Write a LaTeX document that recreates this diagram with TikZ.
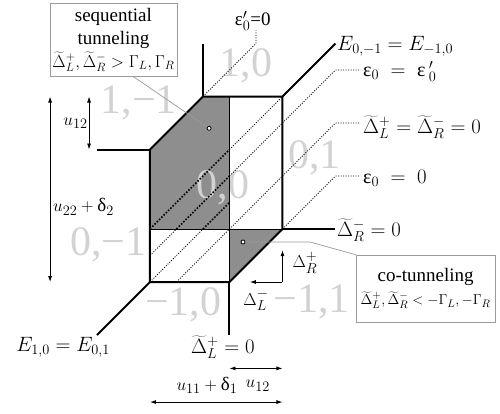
\documentclass[tikz,border=0pt]{standalone}
\usepackage{fontspec}
\setmainfont{Liberation Serif}
\usepackage{tikz}
\usetikzlibrary{positioning, arrows.meta}
\definecolor{cellgray}{HTML}{8E8E8E}
\definecolor{chargegray}{HTML}{D2D2D2}
\definecolor{boxgray}{HTML}{9A9A9A}

\begin{document}
\begin{tikzpicture}[x=26.5pt,y=26.5pt,
  edge/.style={line width=2pt},
  inner/.style={line width=0.7pt},
  thindot/.style={line width=0.8pt,dash pattern=on 1pt off 1.5pt},
  thickdot/.style={line width=1.6pt,dash pattern=on 1.6pt off 1.6pt},
  charge/.style={text=chargegray,font=\fontsize{42}{42}\selectfont,inner sep=0pt},
  lbl/.style={font=\fontsize{20}{24}\selectfont,inner sep=1pt},
  small/.style={font=\fontsize{19}{22}\selectfont,inner sep=1pt},
  infobox/.style={draw=boxgray,fill=white,line width=0.8pt,align=center,font=\fontsize{19}{23}\selectfont,inner sep=2pt},
  dim/.style={{Latex[length=6pt,width=4pt]}-{Latex[length=6pt,width=4pt]},line width=0.8pt},
  offarrow/.style={-{Latex[length=6pt,width=4pt]},line width=0.8pt},
  conn/.style={draw=boxgray,line width=0.7pt},
  probe/.style={circle,draw,line width=0.8pt,fill=white,inner sep=0pt,minimum size=4pt}]
  \useasboundingbox(-5.660,-4.943)rectangle(13.208,10.642);
  \fill[cellgray](0,2)--(0,5)--(2,7)--(3,7)--(3,2)--cycle;
  \fill[cellgray](3,2)--(5,2)--(3,0)--cycle;
  \node[charge](c10)at(3.62,8.15){1,0};
  \node[charge](c1m1)at(-0.42,6.75){1,−1};
  \node[charge](c00)at(2.75,3.55){0,0};
  \node[charge](c01)at(6.2,4.7){0,1};
  \node[charge](c0m1)at(-1.58,1.4){0,−1};
  \node[charge](cm10)at(1.25,-0.87){−1,0};
  \node[charge](cm11)at(6.1,-0.75){−1,1};
  \draw[inner](3,0)--(3,7);\draw[inner](0,2)--(5,2);
  \draw[thindot](0,1)--(1,2);\draw[thindot](0,0)--(2,2);\draw[thindot](1,0)--(3,2);
  \draw[thindot](3,5)--(5,7);
  \draw[thindot](3,4)--(7,8)--(7.95,8);
  \draw[thindot](3,2)--(7,6)--(7.95,6);
  \draw[thindot](5,2)--(7,4)--(7.95,4);
  \draw[thindot](2,7)--(4,9)--(4,9.5);
  \draw[thickdot](0,2)--(3,5);\draw[thickdot](1,2)--(3,4);\draw[thickdot](2,2)--(3,3);
  \draw[edge](0,0)--(0,5)--(2,7)--(5,7)--(5,2)--(3,0)--cycle;
  \draw[edge](0,5)--(-2,5);\draw[edge](2,7)--(2,9);\draw[edge](5,7)--(7,9);
  \draw[edge](5,2)--(7,2);\draw[edge](3,0)--(3,-2);\draw[edge](0,0)--(-2,-2);
  \node[lbl,anchor=west](eTop)at(7.02,8.9){$E_{0,-1}=E_{-1,0}$};
  \node[lbl,anchor=west](epsEq)at(8,7.95){$\mbox{ε}_0\;=\;\mbox{ε}\,'_0$};
  \node[lbl,anchor=west](delEq)at(8,5.85){$\widetilde{\Delta}^{+}_{L}=\widetilde{\Delta}^{-}_{R}=0$};
  \node[lbl,anchor=west](epsZero)at(8,3.9){$\mbox{ε}_0\;=\;0$};
  \node[lbl,anchor=west](delR)at(7.02,1.95){$\widetilde{\Delta}^{-}_{R}=0$};
  \node[small,anchor=south](epsP)at(3.88,9.45){ε$'_0$=0};
  \node[lbl](eBot)at(-3.28,-2.45){$E_{1,0}=E_{0,1}$};
  \node[lbl](delL)at(2.75,-2.45){$\widetilde{\Delta}^{+}_{L}=0$};
  \draw[dim](-2.3,7)--(-2.3,5)node[small,midway,left](uA){$u_{12}$};
  \draw[dim](-3.77,7)--(-3.77,0);
  \node[small,anchor=west](uB)at(-3.7,2.83){$u_{22}+\mbox{δ}_2$};
  \draw[dim](3,-3.26)--(5,-3.26);
  \node[small](uC)at(4.07,-3.92){$u_{12}$};
  \draw[dim](0,-4.53)--(5,-4.53);
  \node[small](uD)at(2.15,-3.9){$u_{11}+\mbox{δ}_1$};
  \coordinate(pivot)at(5,0);
  \draw[offarrow](pivot)--(5,1.2);\draw[offarrow](pivot)--(3.77,0);
  \node[small](dRp)at(5.85,0.72){$\Delta^{+}_{R}$};
  \node[small](dLm)at(4.0,-0.68){$\Delta^{-}_{L}$};
  \node[infobox,minimum width=127pt,minimum height=73pt](seq)at(-1.38,9.15){sequential\\tunneling\\\fontsize{16.5}{20}\selectfont$\widetilde{\Delta}^{+}_{L},\widetilde{\Delta}^{-}_{R}>\Gamma_{L},\Gamma_{R}$};
  \node[infobox,minimum width=139pt,minimum height=67pt](cot)at(10.4,-0.25){co-tunneling\\\fontsize{15}{19}\selectfont$\widetilde{\Delta}^{+}_{L},\widetilde{\Delta}^{-}_{R}<-\Gamma_{L},-\Gamma_{R}$};
  \node[probe](dotA)at(2.23,5.8){};
  \node[probe](dotB)at(3.51,1.51){};
  \coordinate(bend)at(6.04,1.51);
  \draw[conn](seq.298)--(dotA);
  \draw[conn](dotB)--(bend)--(cot.north west);
\end{tikzpicture}
\end{document}
